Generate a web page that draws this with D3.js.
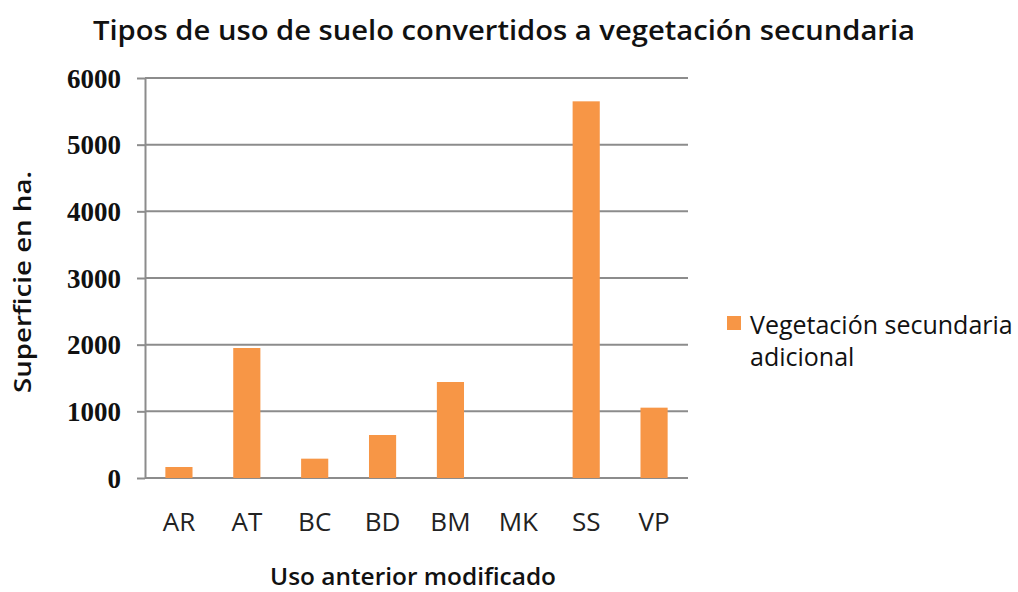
<!DOCTYPE html>
<html>
<head>
<meta charset="utf-8">
<script src="https://cdn.jsdelivr.net/npm/d3@7"></script>
<style>
  body { margin: 0; background: #fff; }
</style>
</head>
<body>
<div id="chart"></div>
<script>
// The data
var categories = ['AR', 'AT', 'BC', 'BD', 'BM', 'MK', 'SS', 'VP'];
var values = [165, 1950, 290, 645, 1440, 0, 5650, 1055];
var yTicks = [0, 1000, 2000, 3000, 4000, 5000, 6000];
var seriesName = ['Vegetación secundaria', 'adicional'];

var W = 1018, H = 592;
var plot = { left: 145, right: 688, top: 78, bottom: 478 };

var svg = d3.select('#chart').append('svg')
    .attr('width', W)
    .attr('height', H);

var x = d3.scaleBand()
    .domain(categories)
    .range([plot.left, plot.right])
    .paddingInner(0.6)
    .paddingOuter(0.3);

var y = d3.scaleLinear()
    .domain([0, 6000])
    .range([plot.bottom, plot.top]);

// Axis ticks and labels
var yAxis = svg.append('g')
    .attr('transform', 'translate(' + plot.left + ',0)')
    .call(d3.axisLeft(y).tickValues(yTicks).tickFormat(d3.format('d'))
      .tickSize(8).tickSizeOuter(0).tickPadding(16));
yAxis.select('.domain').attr('stroke', '#8c8c8c').attr('stroke-width', 2);
yAxis.selectAll('.tick line').attr('stroke', '#8c8c8c').attr('stroke-width', 2);
yAxis.selectAll('.tick text')
    .style('font-family', '"Liberation Serif", serif')
    .style('font-weight', 'bold')
    .style('font-size', '27px')
    .attr('fill', '#111')
    .attr('dy', '0.34em');

// Gridlines
svg.append('g').selectAll('line')
    .data(yTicks)
    .enter()
  .append('line')
    .attr('x1', plot.left)
    .attr('x2', plot.right)
    .attr('y1', function(d) { return y(d); })
    .attr('y2', function(d) { return y(d); })
    .attr('stroke', '#8c8c8c')
    .attr('stroke-width', 2);

// Bars
svg.append('g').selectAll('rect')
    .data(values)
    .enter()
  .append('rect')
    .attr('x', function(d, i) { return x(categories[i]); })
    .attr('y', function(d) { return y(d); })
    .attr('width', x.bandwidth())
    .attr('height', function(d) { return y(0) - y(d); })
    .style('fill', '#f79646');

// X labels
var xAxis = svg.append('g')
    .attr('transform', 'translate(0,' + plot.bottom + ')')
    .call(d3.axisBottom(x).tickSize(0).tickPadding(35));
xAxis.select('.domain').remove();
xAxis.selectAll('.tick text')
    .style('font-family', '"Open Sans", sans-serif')
    .style('font-size', '26px')
    .attr('fill', '#222');

// Titles
svg.append('text')
    .attr('x', 504)
    .attr('y', 40)
    .attr('text-anchor', 'middle')
    .attr('textLength', 822)
    .attr('lengthAdjust', 'spacingAndGlyphs')
    .style('font-family', '"Open Sans", sans-serif')
    .style('font-weight', '600')
    .style('font-size', '27px')
    .style('fill', '#111')
    .text('Tipos de uso de suelo convertidos a vegetación secundaria');

svg.append('text')
    .attr('x', 413)
    .attr('y', 585)
    .attr('text-anchor', 'middle')
    .attr('textLength', 286)
    .attr('lengthAdjust', 'spacingAndGlyphs')
    .style('font-family', '"Open Sans", sans-serif')
    .style('font-weight', '600')
    .style('font-size', '23px')
    .style('fill', '#111')
    .text('Uso anterior modificado');

svg.append('text')
    .attr('transform', 'translate(31,282) rotate(-90)')
    .attr('text-anchor', 'middle')
    .attr('textLength', 222)
    .attr('lengthAdjust', 'spacingAndGlyphs')
    .style('font-family', '"Open Sans", sans-serif')
    .style('font-weight', '600')
    .style('font-size', '23px')
    .style('fill', '#111')
    .text('Superficie en ha.');

// Legend
var legend = svg.append('g');
legend.append('rect')
    .attr('x', 727)
    .attr('y', 316)
    .attr('width', 14)
    .attr('height', 14)
    .style('fill', '#f79646');
legend.selectAll('text')
    .data(seriesName)
    .enter()
  .append('text')
    .attr('x', 750)
    .attr('y', function(d, i) { return 334 + i * 32; })
    .style('font-family', '"Open Sans", sans-serif')
    .style('font-size', '25px')
    .style('fill', '#111')
    .text(function(d) { return d; });
</script>
</body>
</html>
